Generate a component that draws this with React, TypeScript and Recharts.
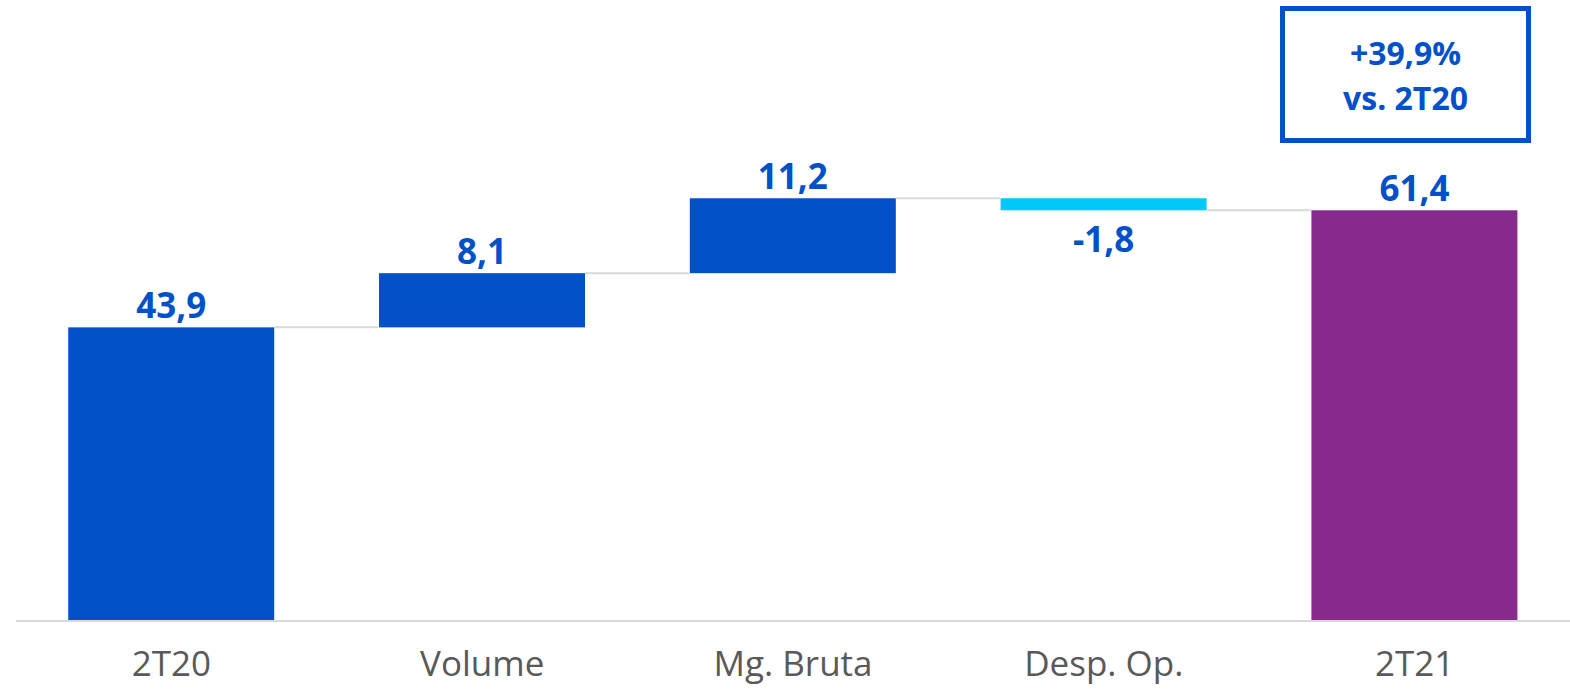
import { BarChart, Bar, XAxis, YAxis } from 'recharts';

// Ponte EBITDA 2T20 -> 2T21 (waterfall)
const categories = ['2T20', 'Volume', 'Mg. Bruta', 'Desp. Op.', '2T21'];
const deltas = [43.9, 8.1, 11.2, -1.8, 61.4];
const kinds = ['total', 'step', 'step', 'step', 'total'];
const badgeLines = ['+39,9%', 'vs. 2T20'];

const COLORS = {
    up: '#0050C8',
    down: '#00C8F8',
    total21: '#862A8E',
    label: '#0050C8',
    axisText: '#595959',
    connector: '#D9D9D9',
};

const W = 1570;
const H = 691;
const GAP = 0.168; // barCategoryGap

// base invisível + valor visível
let running = 0;
const data = categories.map((name, i) => {
    const v = deltas[i];
    let base = 0;
    if (kinds[i] === 'total') {
        running = v;
    } else {
        base = v >= 0 ? running : running + v;
        running += v;
    }
    return {
        name,
        base,
        value: Math.abs(v),
        delta: v,
        color: i === 4 ? COLORS.total21 : v < 0 ? COLORS.down : COLORS.up,
        last: i === categories.length - 1,
    };
});

const fmt = (v: number) => v.toFixed(1).replace('.', ',');

function StepShape(props: any) {
    const { x, y, width, height, payload } = props;
    const neg = payload.delta < 0;
    const endY = neg ? y + height : y;
    const connLen = width * (2 * GAP) / (1 - 2 * GAP);
    return (
        <g>
            <rect x={x} y={y} width={width} height={height} fill={payload.color} />
            {!payload.last && (
                <line x1={x + width} x2={x + width + connLen} y1={endY} y2={endY} stroke={COLORS.connector} strokeWidth={2} />
            )}
            <text
                x={x + width / 2}
                y={neg ? y + height + 42 : y - 9}
                textAnchor="middle"
                fill={COLORS.label}
                fontSize={35}
                fontWeight={700}
                fontFamily="'Open Sans', sans-serif"
            >
                {fmt(payload.delta)}
            </text>
        </g>
    );
}

export default function App() {
    return (
        <div style={{ position: 'absolute', left: 0, top: 0, width: W, height: H, background: '#fff', fontFamily: "'Open Sans', sans-serif" }}>
            <BarChart width={W} height={H} data={data} margin={{ top: 19, right: 0, left: 16, bottom: 0 }} barCategoryGap={`${GAP * 100}%`}>
                <XAxis
                    dataKey="name"
                    height={70}
                    axisLine={{ stroke: COLORS.connector, strokeWidth: 2 }}
                    tickLine={false}
                    tickSize={0}
                    tickMargin={30}
                    interval={0}
                    tick={{ fontSize: 35, fill: COLORS.axisText, fontFamily: "'Open Sans', sans-serif" }}
                />
                <YAxis hide domain={[0, 90]} />
                <Bar dataKey="base" stackId="w" fill="transparent" isAnimationActive={false} />
                <Bar dataKey="value" stackId="w" shape={<StepShape />} isAnimationActive={false} />
            </BarChart>
            {/* caixa de destaque */}
            <div
                style={{
                    position: 'absolute', left: 1280, top: 6, width: 251, height: 137, boxSizing: 'border-box',
                    border: `5px solid ${COLORS.up}`, display: 'flex', flexDirection: 'column',
                    alignItems: 'center', justifyContent: 'center', color: COLORS.label,
                    fontSize: 32, fontWeight: 700, lineHeight: '45px',
                }}
            >
                {badgeLines.map((t) => <div key={t}>{t}</div>)}
            </div>
        </div>
    );
}
